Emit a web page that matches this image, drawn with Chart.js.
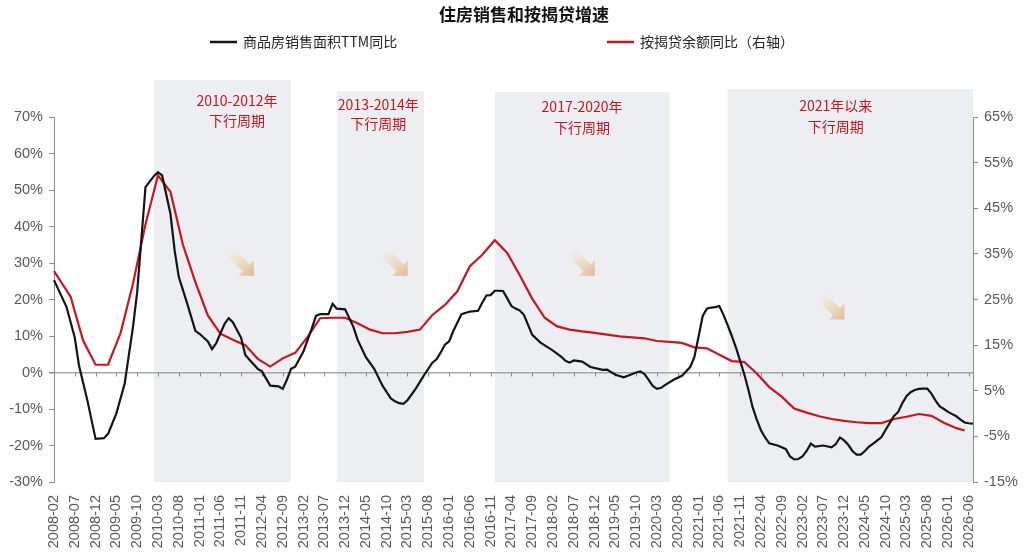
<!DOCTYPE html>
<html>
<head>
<meta charset="utf-8">
<script src="https://cdn.jsdelivr.net/npm/chart.js@4.4.1/dist/chart.umd.min.js"></script>
<style>
html, body { margin: 0; padding: 0; background: #fff; }
#wrap { width: 1024px; height: 556px; position: relative; }
</style>
</head>
<body>
<div id="wrap"><canvas id="myChart"></canvas></div>
<script>
var n = null;

// 月度类目 2008-02 ~ 2026-07
var months = [];
for (var yy = 2008; yy <= 2026; yy++) {
	for (var mm = 1; mm <= 12; mm++) {
		if ((yy == 2008 && mm < 2) || (yy == 2026 && mm > 7)) continue;
		months.push(yy + "-" + (mm < 10 ? "0" + mm : mm));
	}
}
var tickEvery = 5;

// 商品房销售面积TTM同比 (左轴, %)
var salesArea = [
	25.3, n, n, 18.0, n, 9.5, 2.0, n, -7.5, n, -18.2,
	n, -18.0, -16.8, n, -11.2, n, -3.0, n, 12.5, 22.0, n, 50.8,
	n, 53.8, 54.9, 54.0, n, 43.5, 33.5, 26.2, n, 19.0, n, 11.4,
	10.6, n, 8.5, 6.4, 8.0, n, 13.3, 14.9, 13.8, n, 9.5, 4.8,
	3.5, n, 1.0, 0.3, n, -3.6, n, -3.8, -4.5, -2.0, 1.0, 1.6,
	n, 5.8, n, 12.1, 15.5, 16.0, n, 16.0, 18.8, 17.5, n, 17.3,
	n, 12.5, 9.0, n, 4.2, n, 1.0, n, -3.6, n, -7.1, -7.9,
	-8.4, -8.6, -7.6, n, -4.4, n, -0.7, n, 2.7, 3.6, 5.5, 7.6,
	8.5, 11.3, n, 16.0, n, 16.7, n, 16.9, 19.2, 21.1, 21.2, 22.4,
	22.4, 22.3, 20.3, 18.2, 17.5, 17.0, 15.8, n, 10.3, n, 8.2, n,
	n, 6.0, n, 4.3, 3.2, 2.7, 3.3, n, 3.0, n, 1.5, n,
	n, 0.7, 0.8, n, -0.6, n, -1.3, -0.9, n, 0.0, 0.3, -0.4,
	-2.0, -3.7, -4.5, -4.2, -3.4, n, -2.0, n, -0.9, n, 1.5, 4.3,
	9.8, 15.5, 17.5, 17.8, 17.9, 18.2, 15.8, 13.0, 10.0, 6.8, 3.2, -0.5,
	-4.8, -9.5, -12.9, -15.8, -17.8, -19.4, n, -20.0, -20.5, -21.0, -23.0, -23.8,
	-23.7, -23.0, -21.5, -19.5, -20.3, n, -20.0, n, -20.5, -19.6, -17.8, -18.6,
	-19.8, -21.5, -22.5, -22.5, -21.5, -20.3, -19.5, -18.6, -17.7, -15.7, -13.8, -11.9,
	-10.8, -8.4, -6.5, -5.4, -4.8, -4.5, -4.4, -4.4, -5.8, -7.7, -9.3, -10.0,
	-10.8, -11.4, -12.0, -12.9, -13.7, -13.9, -14.0
];

// 按揭贷余额同比 (右轴, %), 季度
var mortgage = [
	31.2, n, n, n, 25.6, n, n, 16.0, n, n, 10.7,
	n, n, 10.7, n, n, 17.6, n, n, 28.5, n, n, 41.5,
	n, n, 52.2, n, n, 48.6, n, n, 37.0, n, n, 28.8,
	n, n, 21.5, n, n, 17.5, n, n, 16.2, n, n, 15.0,
	n, n, 12.0, n, n, 10.3, n, n, 12.1, n, n, 13.3,
	n, n, 16.8, n, n, 20.9, n, n, 21.0, n, n, 21.0,
	n, n, 19.8, n, n, 18.4, n, n, 17.6, n, n, 17.6,
	n, n, 17.9, n, n, 18.4, n, n, 21.6, n, n, 23.8,
	n, n, 26.8, n, n, 32.3, n, n, 34.8, n, n, 38.0,
	n, n, 35.2, n, n, 30.3, n, n, 25.2, n, n, 21.0,
	n, n, 19.1, n, n, 18.4, n, n, 18.0, n, n, 17.7,
	n, n, 17.3, n, n, 16.9, n, n, 16.7, n, n, 16.5,
	n, n, 15.9, n, n, 15.7, n, n, 15.5, n, n, 14.5,
	n, n, 14.3, n, n, 12.9, n, n, 11.5, n, n, 11.3,
	n, n, 8.8, n, n, 5.8, n, n, 3.7, n, n, 1.1,
	n, n, 0.2, n, n, -0.6, n, n, -1.2, n, n, -1.6,
	n, n, -1.9, n, n, -2.1, n, n, -2.1, n, n, -1.2,
	n, n, -0.7, n, n, -0.1, n, n, -0.5, n, n, -2.0,
	n, n, -3.2, n, -3.7, n, n
];

var seriesNames = ["商品房销售面积TTM同比", "按揭贷余额同比（右轴）"];
var chartTitle = "住房销售和按揭贷增速";

// 下行周期阴影
var periods = [
	{ from: "2010-02", to: "2012-11", top: 80, lines: ["2010-2012年", "下行周期"], textAt: "2011-10", textY: [101, 121], arrowAt: "2011-11", arrowVal: 30 },
	{ from: "2013-10", to: "2015-07", top: 91, lines: ["2013-2014年", "下行周期"], textAt: "2014-08", textY: [105, 124], arrowAt: "2014-12", arrowVal: 30 },
	{ from: "2016-12", to: "2020-06", top: 92, lines: ["2017-2020年", "下行周期"], textAt: "2018-09", textY: [107, 128], arrowAt: "2018-09", arrowVal: 30 },
	{ from: "2021-08", to: null, top: 89, lines: ["2021年以来", "下行周期"], textAt: "2023-10", textY: [106, 127], arrowAt: "2023-09", arrowVal: 18 }
];

var FONT = '"Liberation Sans", "Noto Sans CJK SC", sans-serif';
var CJK = '"Noto Sans CJK SC", "Liberation Sans", sans-serif';
var RED = "#c8161e";
var BLACK = "#141414";
var AXIS = "#8c8c8c";
var TXT = "#595959";

function drawArrow(ctx, cx, cy) {
	ctx.save();
	ctx.translate(cx, cy);
	ctx.rotate(Math.PI / 4);
	var g = ctx.createLinearGradient(-14, 0, 18, 0);
	g.addColorStop(0, "rgba(248,232,214,0.5)");
	g.addColorStop(1, "rgba(224,184,142,1)");
	ctx.fillStyle = g;
	ctx.beginPath();
	ctx.moveTo(-14, -5);
	ctx.lineTo(7, -5);
	ctx.lineTo(7, -11);
	ctx.lineTo(18, 0);
	ctx.lineTo(7, 11);
	ctx.lineTo(7, 5);
	ctx.lineTo(-14, 5);
	ctx.closePath();
	ctx.fill();
	ctx.restore();
}

var shadePlugin = {
	id: "shade",
	beforeDraw: function(chart) {
		var ctx = chart.ctx, xs = chart.scales.x, ys = chart.scales.y, area = chart.chartArea;
		ctx.save();
		periods.forEach(function(p) {
			var x0 = xs.getPixelForValue(months.indexOf(p.from));
			var x1 = p.to ? xs.getPixelForValue(months.indexOf(p.to)) : area.right;
			ctx.fillStyle = "#eceef1";
			ctx.fillRect(x0, p.top, x1 - x0, area.bottom - p.top);
			var tx = xs.getPixelForValue(months.indexOf(p.textAt));
			ctx.fillStyle = RED;
			ctx.font = "14px " + CJK;
			ctx.textAlign = "center";
			ctx.textBaseline = "middle";
			ctx.fillText(p.lines[0], tx, p.textY[0]);
			ctx.fillText(p.lines[1], tx, p.textY[1]);
			drawArrow(ctx, xs.getPixelForValue(months.indexOf(p.arrowAt)), ys.getPixelForValue(p.arrowVal));
		});
		ctx.restore();
	}
};

var zeroTickPlugin = {
	id: "zeroTicks",
	beforeDatasetsDraw: function(chart) {
		var ctx = chart.ctx, xs = chart.scales.x, y0 = chart.scales.y.getPixelForValue(0);
		ctx.save();
		ctx.strokeStyle = AXIS;
		ctx.lineWidth = 1;
		for (var i = 0; i < months.length; i += tickEvery) {
			var x = Math.round(xs.getPixelForValue(i)) + 0.5;
			ctx.beginPath();
			ctx.moveTo(x, y0);
			ctx.lineTo(x, y0 + 4);
			ctx.stroke();
		}
		ctx.restore();
	}
};

var headPlugin = {
	id: "head",
	afterDraw: function(chart) {
		var ctx = chart.ctx;
		ctx.save();
		ctx.fillStyle = "#111";
		ctx.font = "bold 17px " + CJK;
		ctx.textAlign = "center";
		ctx.textBaseline = "middle";
		ctx.fillText(chartTitle, 524, 15);
		var items = [[210, BLACK, seriesNames[0]], [607, RED, seriesNames[1]]];
		ctx.font = "14px " + CJK;
		ctx.textAlign = "left";
		items.forEach(function(it) {
			ctx.strokeStyle = it[1];
			ctx.lineWidth = 2.5;
			ctx.beginPath();
			ctx.moveTo(it[0], 42);
			ctx.lineTo(it[0] + 27, 42);
			ctx.stroke();
			ctx.fillStyle = "#262626";
			ctx.fillText(it[2], it[0] + 33, 42);
		});
		ctx.restore();
	}
};

var ctx = document.getElementById("myChart").getContext("2d");
var myChart = new Chart(ctx, {
	type: "line",
	data: {
		labels: months,
		datasets: [{
			label: seriesNames[0],
			data: salesArea,
			yAxisID: "y",
			borderColor: BLACK,
			borderWidth: 2.2,
			pointRadius: 0,
			tension: 0,
			spanGaps: true
		}, {
			label: seriesNames[1],
			data: mortgage,
			yAxisID: "y1",
			borderColor: RED,
			borderWidth: 2.2,
			pointRadius: 0,
			tension: 0,
			spanGaps: true
		}]
	},
	options: {
		responsive: true,
		maintainAspectRatio: false,
		animation: false,
		layout: { padding: { top: 117, left: 0, right: 0, bottom: 0 } },
		plugins: {
			legend: { display: false },
			title: { display: false },
			tooltip: { enabled: false }
		},
		scales: {
			x: {
				type: "category",
				grid: { display: false },
				border: { display: false },
				ticks: {
					autoSkip: false,
					maxRotation: 90,
					minRotation: 90,
					padding: 5,
					color: TXT,
					font: { size: 14.5, family: FONT },
					callback: function(v, i) { return i % tickEvery === 0 ? months[i] : ""; }
				},
				afterFit: function(s) { s.height = 74; }
			},
			y: {
				position: "left",
				min: -30,
				max: 70,
				ticks: {
					stepSize: 10,
					padding: 6,
					color: TXT,
					font: { size: 14.5, family: FONT },
					callback: function(v) { return v + "%"; }
				},
				grid: {
					color: function(c) { return c.tick && c.tick.value === 0 ? "#a6a6a6" : "rgba(0,0,0,0)"; },
					lineWidth: function(c) { return c.tick && c.tick.value === 0 ? 1.5 : 1; },
					tickColor: AXIS,
					tickLength: 5
				},
				border: { color: AXIS, width: 1 },
				afterFit: function(s) { s.width = 54; }
			},
			y1: {
				position: "right",
				min: -15,
				max: 65,
				ticks: {
					stepSize: 10,
					padding: 6,
					color: TXT,
					font: { size: 14.5, family: FONT },
					callback: function(v) { return v + "%"; }
				},
				grid: { drawOnChartArea: false, tickColor: AXIS, tickLength: 5 },
				border: { color: AXIS, width: 1 },
				afterFit: function(s) { s.width = 51; }
			}
		}
	},
	plugins: [shadePlugin, zeroTickPlugin, headPlugin]
});
</script>
</body>
</html>
